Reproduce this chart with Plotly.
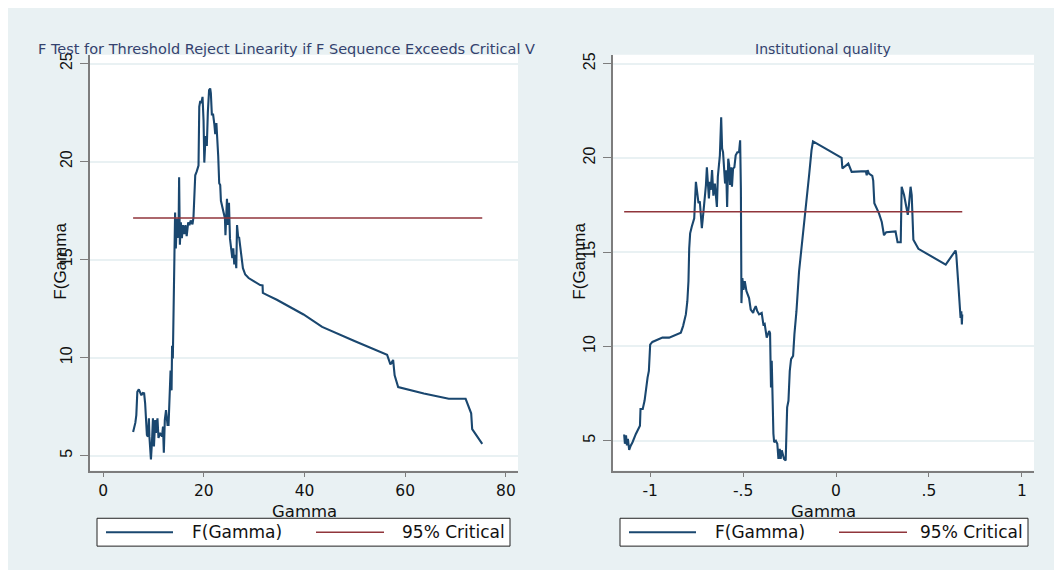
import plotly.graph_objects as go

# page body keeps an 8px white margin (like the white page border in the reference)
OFF = 8
W, H = 1062 - OFF, 570 - OFF

# ---------------- data ----------------
left_gamma = [5.96, 6.4, 6.6, 6.8, 7.1, 7.36, 7.6, 7.9, 8.15, 8.35, 8.55, 8.7, 8.9, 9.1, 9.2, 9.5, 9.7, 9.9,
              10.1, 10.35, 10.5, 10.8, 11.0, 11.3, 11.7, 11.9, 12.06, 12.26, 12.5, 12.8, 13.0, 13.2, 13.4,
              13.6, 13.7, 13.85, 14.0, 14.1, 14.3, 14.45, 14.65, 14.8, 15.0, 15.1, 15.25, 15.45, 15.65,
              15.85, 16.1, 16.35, 16.6, 16.9, 17.15, 17.4, 17.75, 17.95, 18.1, 18.3, 18.6, 18.95, 19.1,
              19.3, 19.5, 19.75, 19.95, 20.1, 20.35, 20.6, 20.8, 21.05, 21.27, 21.4, 21.6, 21.85, 22.1,
              22.27, 22.5, 22.66, 22.86, 23.06, 23.26, 23.4, 23.66, 23.9, 24.2, 24.3, 24.6, 24.8, 25.0,
              25.2, 25.45, 25.66, 25.86, 26.05, 26.25, 26.45, 26.6, 26.84, 27.0, 27.24, 27.44, 27.77,
              28.23, 28.9, 29.9, 31.2, 31.67, 31.73, 32.5, 34.5, 39.8, 43.5, 49.8, 56.4, 56.6, 57.06,
              57.6, 57.9, 58.6, 63.7, 68.65, 72.0, 73.1, 73.3, 75.3]
left_F = [6.2, 6.67, 7.07, 8.25, 8.38, 8.25, 8.08, 8.2, 8.18, 7.67, 7.0, 6.06, 5.97, 6.9, 5.97, 4.8, 5.65, 6.9,
          5.47, 6.82, 6.16, 6.9, 5.9, 6.16, 5.97, 6.48, 5.15, 6.82, 7.32, 6.57, 6.57, 8.69, 9.34,
          8.33, 10.6, 9.95, 13.2, 14.9, 17.4, 15.57, 17.1, 16.1, 16.8, 19.2, 15.76, 16.9, 16.1,
          16.76, 16.3, 16.76, 16.2, 16.9, 16.76, 17.0, 16.8, 17.17, 18.4, 19.3, 19.5, 19.8, 22.8,
          23.1, 22.98, 23.3, 22.1, 19.95, 21.3, 20.8, 22.5, 23.65, 23.73, 23.5, 22.4, 22.4, 21.9,
          21.4, 21.97, 21.3, 20.3, 18.9, 18.8, 18.0, 17.7, 17.4, 17.1, 16.25, 18.1, 16.77, 17.9,
          16.07, 15.66, 15.07, 15.57, 14.75, 15.25, 14.56, 16.76, 16.1, 16.16, 15.57, 15.07, 14.56,
          14.24, 14.06, 13.9, 13.7, 13.68, 13.3, 13.2, 12.95, 12.2, 11.57, 10.86, 10.15, 10.0, 9.65,
          9.88, 9.1, 8.5, 8.17, 7.9, 7.9, 7.16, 6.35, 5.6]
left_crit = 17.12
left_xticks = [0, 20, 40, 60, 80]
left_xlabels = ["0", "20", "40", "60", "80"]

right_gamma = [-1.14, -1.136, -1.13, -1.125, -1.12, -1.113, -1.104, -1.095, -1.077, -1.062, -1.055, -1.052,
               -1.04, -1.03, -1.023, -1.014, -1.007, -1.0, -0.988, -0.952, -0.934, -0.898, -0.835, -0.823,
               -0.808, -0.8, -0.794, -0.79, -0.785, -0.776, -0.763, -0.754, -0.747, -0.74, -0.733, -0.728,
               -0.722, -0.715, -0.708, -0.7, -0.695, -0.69, -0.684, -0.679, -0.674, -0.667, -0.66, -0.652,
               -0.647, -0.641, -0.636, -0.63, -0.625, -0.618, -0.613, -0.608, -0.6, -0.597, -0.591, -0.586,
               -0.58, -0.575, -0.57, -0.565, -0.56, -0.554, -0.547, -0.54, -0.531, -0.522, -0.516, -0.512,
               -0.509, -0.504, -0.498, -0.491, -0.482, -0.468, -0.459, -0.446, -0.441, -0.432, -0.425,
               -0.414, -0.4, -0.391, -0.384, -0.373, -0.368, -0.36, -0.355, -0.35, -0.346, -0.342, -0.337,
               -0.333, -0.324, -0.316, -0.31, -0.303, -0.298, -0.292, -0.285, -0.28, -0.271, -0.267,
               -0.263, -0.256, -0.249, -0.242, -0.231, -0.224, -0.213, -0.199, -0.181, -0.163, -0.145,
               -0.132, -0.124, -0.056, 0.03, 0.034, 0.052, 0.066, 0.084, 0.097, 0.16, 0.165, 0.17, 0.177,
               0.186, 0.195, 0.2, 0.206, 0.231, 0.246, 0.258, 0.27, 0.32, 0.331, 0.348, 0.353, 0.366,
               0.375, 0.386, 0.392, 0.401, 0.407, 0.412, 0.416, 0.443, 0.482, 0.59, 0.643, 0.647, 0.658,
               0.665, 0.67, 0.674, 0.677, 0.679]
right_F = [5.33, 4.84, 5.28, 4.75, 5.1, 4.52, 4.75, 4.92, 5.36, 5.71, 5.8, 6.68,
           6.68, 7.13, 7.83, 8.35, 8.7, 10.1, 10.24, 10.38, 10.47, 10.47, 10.73, 11.08,
           11.7, 12.4, 13.46, 15.2, 16.0, 16.36, 16.8, 18.73, 18.2, 17.6, 17.7, 16.98,
           16.27, 16.98, 17.6, 18.56, 19.5, 18.56, 17.85, 18.73, 18.3, 19.35, 18.0, 18.64,
           18.2, 17.4, 19.0, 19.6, 20.14, 22.16, 20.5, 20.3, 19.26, 18.64, 19.35, 17.4,
           19.96, 19.6, 18.56, 19.5, 18.47, 19.44, 19.5, 20.14, 20.3, 20.3, 20.93, 18.38,
           12.3, 13.63, 13.0, 13.46, 12.93, 12.57, 11.96, 11.78, 11.96, 12.14, 11.9,
           11.7, 11.78, 11.17, 11.2, 10.47, 10.6, 10.82, 10.7, 7.83, 9.24, 7.12, 5.37,
           4.92, 5.0, 4.84, 4.04, 4.57, 4.04, 4.49, 4.13, 4.04, 3.96, 5.19,
           6.77, 7.12, 8.7, 9.33, 9.5, 10.64, 11.87, 13.98, 15.57, 17.15, 19.08,
           20.4, 20.88, 20.49, 20.0, 19.44, 19.6, 19.7, 19.26, 19.26, 19.3, 19.08, 19.35, 19.17,
           19.1, 19.05, 18.8, 17.6, 17.06, 16.6, 15.9, 16.06, 16.1, 15.53, 15.53, 18.47, 18.03,
           17.5, 16.98, 17.5, 18.47, 18.03, 16.8, 15.66, 15.18, 14.95, 14.34, 15.09, 14.86, 13.28,
           11.87, 11.52, 11.87, 11.17, 11.7]
right_crit = 17.15
right_xticks = [-1, -0.5, 0, 0.5, 1]
right_xlabels = ["-1", "-.5", "0", ".5", "1"]

y_ticks = [5, 10, 15, 20, 25]
y_labels = ["5", "10", "15", "20", "25"]

series_names = ["F(Gamma)", "95% Critical"]
panel_titles = ["F Test for Threshold Reject Linearity if F Sequence Exceeds Critical V",
                "Institutional quality"]
x_title = "Gamma"
y_title = "F(Gamma"

# ---------------- style ----------------
NAVY = "#1a476f"
RED = "#90353b"
BG = "#e9f1f3"
GRID = "#e9f1f3"
AXIS = "#7d7d7d"
SUB = "#34426e"
TXT = "#111111"


def px_x(p):
    """screen pixel x -> paper fraction"""
    return (p - OFF) / W


def px_y(p):
    """screen pixel y -> paper fraction"""
    return 1 - (p - OFF) / H


fig = go.Figure()

fig.add_trace(go.Scatter(x=left_gamma, y=left_F, mode="lines", name=series_names[0],
                         line=dict(color=NAVY, width=2.1), xaxis="x", yaxis="y"))
fig.add_trace(go.Scatter(x=[min(left_gamma), max(left_gamma)], y=[left_crit, left_crit], mode="lines",
                         name=series_names[1], line=dict(color=RED, width=1.5), xaxis="x", yaxis="y"))
fig.add_trace(go.Scatter(x=right_gamma, y=right_F, mode="lines", name=series_names[0],
                         line=dict(color=NAVY, width=2.1), xaxis="x2", yaxis="y2"))
fig.add_trace(go.Scatter(x=[min(right_gamma), max(right_gamma)], y=[right_crit, right_crit], mode="lines",
                         name=series_names[1], line=dict(color=RED, width=1.5), xaxis="x2", yaxis="y2"))

ydom = [px_y(470), px_y(52)]
common_x = dict(showline=True, linecolor=AXIS, linewidth=1.5, ticks="outside", ticklen=5,
                tickcolor=AXIS, tickwidth=1.2, showgrid=False, zeroline=False,
                tickfont=dict(family="DejaVu Sans", size=15.5, color=TXT))
common_y = dict(showline=True, linecolor=AXIS, linewidth=1.5, ticks="outside", ticklen=8,
                tickcolor=AXIS, tickwidth=1.2, showgrid=True, gridcolor=GRID, gridwidth=1.5,
                zeroline=False, tickangle=-90, tickvals=y_ticks, ticktext=y_labels,
                ticklabelstandoff=2,
                tickfont=dict(family="Liberation Sans", size=16, color=TXT))

shapes = []
annotations = [
    dict(text=panel_titles[0], x=px_x(36), y=px_y(46), xanchor="left",
         font=dict(family="DejaVu Sans", size=14.5, color=SUB)),
    dict(text=panel_titles[1], x=px_x(823), y=px_y(46), xanchor="center",
         font=dict(family="DejaVu Sans", size=14, color=SUB)),
    dict(text=x_title, x=px_x(304), y=px_y(511), xanchor="center",
         font=dict(family="DejaVu Sans", size=16.5, color=TXT)),
    dict(text=x_title, x=px_x(823), y=px_y(511), xanchor="center",
         font=dict(family="DejaVu Sans", size=16.5, color=TXT)),
    dict(text=y_title, x=px_x(61), y=px_y(260), xanchor="center", textangle=-90,
         font=dict(family="Liberation Sans", size=17, color=TXT)),
    dict(text=y_title, x=px_x(580), y=px_y(260), xanchor="center", textangle=-90,
         font=dict(family="Liberation Sans", size=17, color=TXT)),
]

# legends (one box per panel)
legend_boxes = [(97, 510), (620, 1028)]
for (bx0, bx1) in legend_boxes:
    shapes.append(dict(type="rect", xref="paper", yref="paper", x0=px_x(bx0), x1=px_x(bx1),
                       y0=px_y(546), y1=px_y(518), fillcolor="white",
                       line=dict(color="#222222", width=1)))
    ym = px_y(532)
    shapes.append(dict(type="line", xref="paper", yref="paper", x0=px_x(bx0 + 9), x1=px_x(bx0 + 76),
                       y0=ym, y1=ym, line=dict(color=NAVY, width=2)))
    annotations.append(dict(text=series_names[0], x=px_x(bx0 + 93), y=ym, xanchor="left",
                            font=dict(family="DejaVu Sans", size=17, color=TXT)))
    shapes.append(dict(type="line", xref="paper", yref="paper", x0=px_x(bx0 + 219), x1=px_x(bx0 + 287),
                       y0=ym, y1=ym, line=dict(color=RED, width=1.5)))
    annotations.append(dict(text=series_names[1], x=px_x(bx1 - 3), y=ym, xanchor="right",
                            font=dict(family="DejaVu Sans", size=17, color=TXT)))

for a in annotations:
    a.setdefault("xref", "paper")
    a.setdefault("yref", "paper")
    a.setdefault("yanchor", "middle")
    a["showarrow"] = False

fig.update_layout(
    width=W, height=H, autosize=False,
    margin=dict(l=0, r=0, t=0, b=0),
    paper_bgcolor=BG, plot_bgcolor="white",
    xaxis=dict(domain=[px_x(90), px_x(518)], range=[-2.6, 82.4], anchor="y",
               tickvals=left_xticks, ticktext=left_xlabels, **common_x),
    yaxis=dict(domain=ydom, range=[4.24, 25.45], anchor="x", **common_y),
    xaxis2=dict(domain=[px_x(613), px_x(1034)], range=[-1.2, 1.065], anchor="y2",
                tickvals=right_xticks, ticktext=right_xlabels, **common_x),
    yaxis2=dict(domain=ydom, range=[3.42, 25.47], anchor="x2", **common_y),
    showlegend=False,
    shapes=shapes,
    annotations=annotations,
)

fig.write_html("out.html")
